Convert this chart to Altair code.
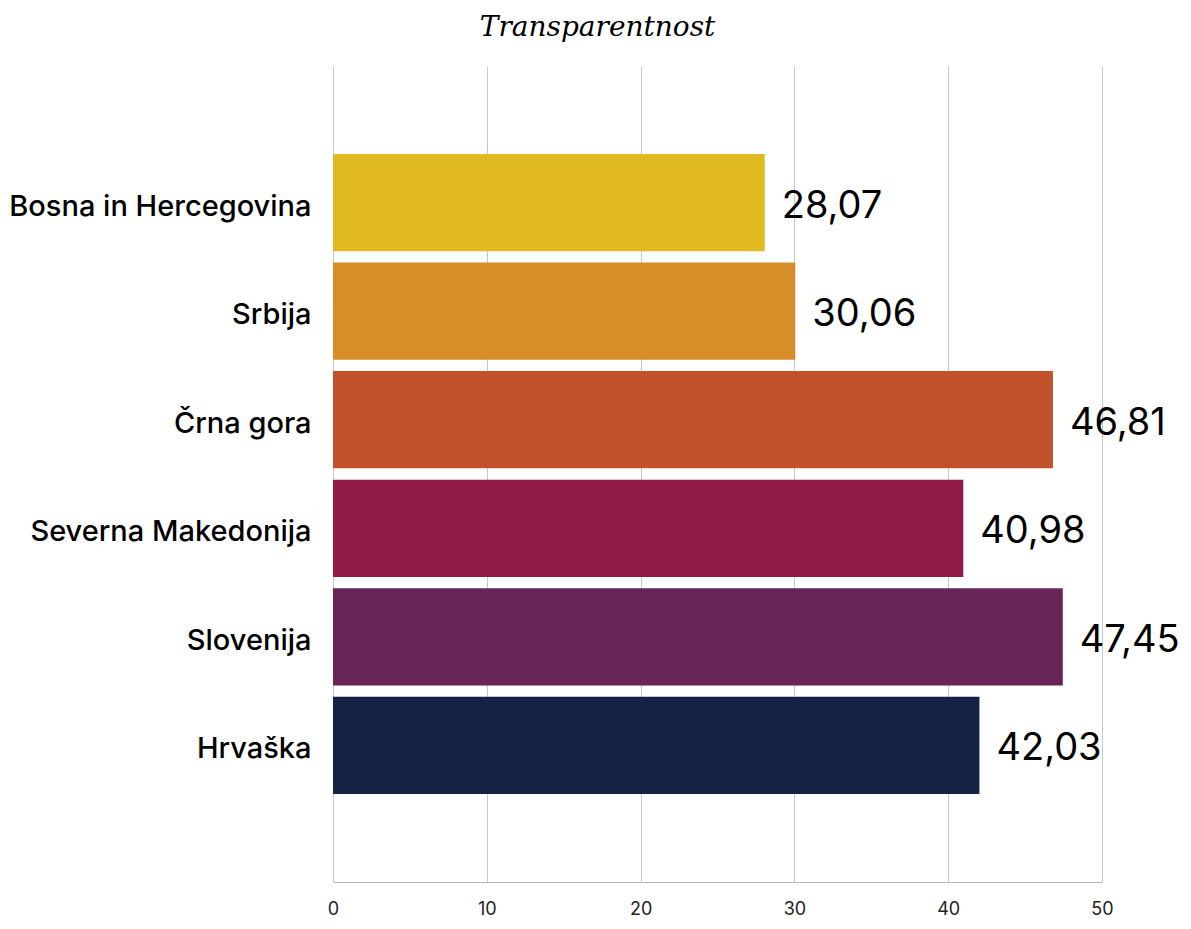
import altair as alt
import pandas as pd

countries = ["Bosna in Hercegovina", "Srbija", "Črna gora", "Severna Makedonija", "Slovenija", "Hrvaška"]
values = [28.07, 30.06, 46.81, 40.98, 47.45, 42.03]
labels = ["28,07", "30,06", "46,81", "40,98", "47,45", "42,03"]
colors = ["#E1B920", "#D88D29", "#C1522C", "#911B47", "#682557", "#162146"]

df = pd.DataFrame({"country": countries, "value": values, "label": labels})

y_enc = alt.Y("country:N", sort=countries,
              scale=alt.Scale(paddingInner=0.104, paddingOuter=0.81),
              axis=alt.Axis(title=None, ticks=False, domain=False, labelFontSize=29,
                            labelFont="Inter", labelFontWeight=500, labelColor="#000",
                            labelPadding=22, labelLimit=420, labelOffset=4))

bars = alt.Chart(df).mark_bar().encode(
    x=alt.X("value:Q", scale=alt.Scale(domain=[0, 50]),
            axis=alt.Axis(title=None, values=[0, 10, 20, 30, 40, 50], ticks=False,
                          domain=True, domainColor="#b5b5b5", gridColor="#c8c8c8",
                          labelFontSize=18, labelFont="Inter", labelColor="#222",
                          labelPadding=18, labelFlush=False)),
    y=y_enc,
    color=alt.Color("country:N", sort=countries,
                    scale=alt.Scale(domain=countries, range=colors), legend=None),
)

text = alt.Chart(df).mark_text(align="left", baseline="middle", dx=17, dy=4, fontSize=38,
                               font="Inter", color="#000").encode(
    x="value:Q", y=alt.Y("country:N", sort=countries), text="label:N")

chart = (bars + text).properties(
    width=769, height=816,
    title=alt.TitleParams("Transparentnost", font="DejaVu Serif", fontStyle="italic",
                          fontWeight="normal", fontSize=28, color="#000", dx=-120, offset=24),
    autosize=alt.AutoSizeParams(type="none"),
    padding={"left": 325, "top": 58, "right": 81, "bottom": 39},
).configure_view(stroke=None)

chart.save("out.html", embed_options={"renderer": "svg", "actions": False})
